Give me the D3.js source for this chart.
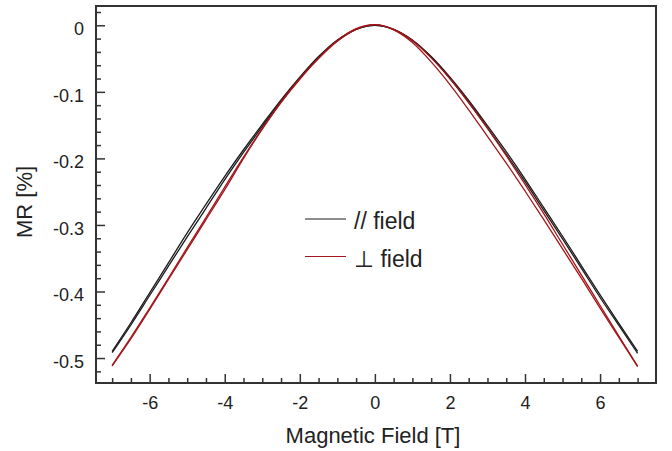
<!DOCTYPE html>
<html>
<head>
<meta charset="utf-8">
<script src="https://cdn.jsdelivr.net/npm/d3@7"></script>
<style>
  html, body { margin: 0; padding: 0; background: #fff; }
  svg { display: block; font-family: "Liberation Sans", Arial, Helvetica, sans-serif; }
  .tick text { fill: #222; }
</style>
</head>
<body>
<svg id="chart"></svg>
<script>
// field sweep points [T]
const fieldT = [-7, -6.5, -6, -5.5, -5, -4.5, -4, -3.5, -3, -2.5, -2, -1.5, -1, -0.5, 0,
                0.5, 1, 1.5, 2, 2.5, 3, 3.5, 4, 4.5, 5, 5.5, 6, 6.5, 7];

// MR [%], field parallel, two sweeps
const mrParA = [-0.492, -0.450, -0.406, -0.362, -0.318, -0.275, -0.232, -0.191, -0.152, -0.114,
                -0.079, -0.048, -0.023, -0.006, 0.000, -0.006, -0.022, -0.047, -0.078, -0.113,
                -0.151, -0.190, -0.231, -0.274, -0.317, -0.361, -0.405, -0.448, -0.490];
const mrParB = [-0.490, -0.447, -0.402, -0.357, -0.312, -0.269, -0.227, -0.187, -0.149, -0.112,
                -0.078, -0.047, -0.022, -0.006, 0.000, -0.006, -0.023, -0.048, -0.080, -0.116,
                -0.154, -0.194, -0.235, -0.278, -0.321, -0.365, -0.409, -0.451, -0.493];

// MR [%], field perpendicular, two sweeps
const mrPerpA = [-0.512, -0.471, -0.427, -0.382, -0.337, -0.292, -0.247, -0.200, -0.156, -0.116,
                 -0.081, -0.050, -0.024, -0.006, 0.001, -0.006, -0.023, -0.049, -0.080, -0.116,
                 -0.155, -0.196, -0.239, -0.283, -0.329, -0.375, -0.421, -0.467, -0.512];
const mrPerpB = [-0.511, -0.469, -0.425, -0.380, -0.334, -0.289, -0.243, -0.198, -0.155, -0.115,
                 -0.080, -0.049, -0.023, -0.005, 0.001, -0.007, -0.026, -0.055, -0.089, -0.127,
                 -0.167, -0.207, -0.249, -0.292, -0.336, -0.380, -0.425, -0.469, -0.513];

const xTicks = [-6, -4, -2, 0, 2, 4, 6];
const xMinor = [-7, -6.5, -5.5, -5, -4.5, -3.5, -3, -2.5, -1.5, -1, -0.5,
                0.5, 1, 1.5, 2.5, 3, 3.5, 4.5, 5, 5.5, 6.5, 7];
const yTicks = [0, -0.1, -0.2, -0.3, -0.4, -0.5];
const yMinor = [0.02, -0.02, -0.04, -0.06, -0.08, -0.12, -0.14, -0.16, -0.18, -0.22, -0.24,
                -0.26, -0.28, -0.32, -0.34, -0.36, -0.38, -0.42, -0.44, -0.46, -0.48, -0.52];

const series = [
    { label: '// field', color: '#1c1c1c', sweeps: [mrParA, mrParB] },
    { label: '\u22A5 field', color: '#a3161b', sweeps: [mrPerpA, mrPerpB] }
];

const W = 672, H = 451;
const MARGIN = { top: 6, right: 16, bottom: 68, left: 96 };
const iw = W - MARGIN.left - MARGIN.right;
const ih = H - MARGIN.top - MARGIN.bottom;

// plain hyphen instead of d3's unicode minus
const hyph = fmt => d => fmt(d).replace('\u2212', '-');

const svg = d3.select('#chart').attr('width', W).attr('height', H);
const g = svg.append('g').attr('transform', `translate(${MARGIN.left},${MARGIN.top})`);

const x = d3.scaleLinear().domain([-7.43, 7.49]).range([0, iw]);
const y = d3.scaleLinear().domain([-0.5375, 0.029]).range([ih, 0]);

// curves
const line = d3.line()
    .x(d => x(d[0]))
    .y(d => y(d[1]))
    .curve(d3.curveMonotoneX);

series.forEach(s => {
    s.sweeps.forEach(vals => {
        g.append('path')
            .datum(fieldT.map((b, i) => [b, vals[i]]))
            .attr('fill', 'none')
            .attr('stroke', s.color)
            .attr('stroke-width', 1.3)
            .attr('d', line);
    });
});

// axes, ticks pointing inward
const axisStyle = a => {
    a.select('.domain').remove();
    a.selectAll('.tick line').attr('stroke', '#333').attr('stroke-width', 1.5);
};

g.append('g')
    .call(d3.axisLeft(y).tickValues(yMinor).tickSize(-5).tickFormat(''))
    .call(axisStyle);
g.append('g')
    .call(d3.axisLeft(y).tickValues(yTicks).tickSize(-9).tickPadding(12)
        .tickFormat(d => d === 0 ? '0' : hyph(d3.format('.1f'))(d)))
    .call(axisStyle)
    .call(a => a.selectAll('.tick text').attr('font-size', 18).attr('dy', '0.52em'));

g.append('g')
    .attr('transform', `translate(0,${ih})`)
    .call(d3.axisBottom(x).tickValues(xMinor).tickSize(-5).tickFormat(''))
    .call(axisStyle);
g.append('g')
    .attr('transform', `translate(0,${ih})`)
    .call(d3.axisBottom(x).tickValues(xTicks).tickSize(-9).tickPadding(13.5).tickFormat(hyph(d3.format('d'))))
    .call(axisStyle)
    .call(a => a.selectAll('.tick text').attr('font-size', 18));

// frame
g.append('rect')
    .attr('width', iw).attr('height', ih)
    .attr('fill', 'none')
    .attr('stroke', '#333')
    .attr('stroke-width', 2);

// axis titles
svg.append('text')
    .attr('x', 373).attr('y', 443)
    .attr('text-anchor', 'middle')
    .attr('font-size', 22)
    .attr('fill', '#222')
    .text('Magnetic Field [T]');

svg.append('text')
    .attr('transform', 'translate(32,202) rotate(-90)')
    .attr('text-anchor', 'middle')
    .attr('font-size', 22)
    .attr('fill', '#222')
    .text('MR [%]');

// legend
const legend = svg.append('g').attr('transform', 'translate(305,219)');
series.forEach((s, i) => {
    const row = legend.append('g').attr('transform', `translate(0,${i * 37.5})`);
    row.append('line')
        .attr('x1', 0).attr('x2', 41)
        .attr('stroke', s.color).attr('stroke-width', 1.2);
    row.append('text')
        .attr('x', 49).attr('y', 10)
        .attr('font-size', 23)
        .attr('fill', '#222')
        .text(s.label);
});
</script>
</body>
</html>
